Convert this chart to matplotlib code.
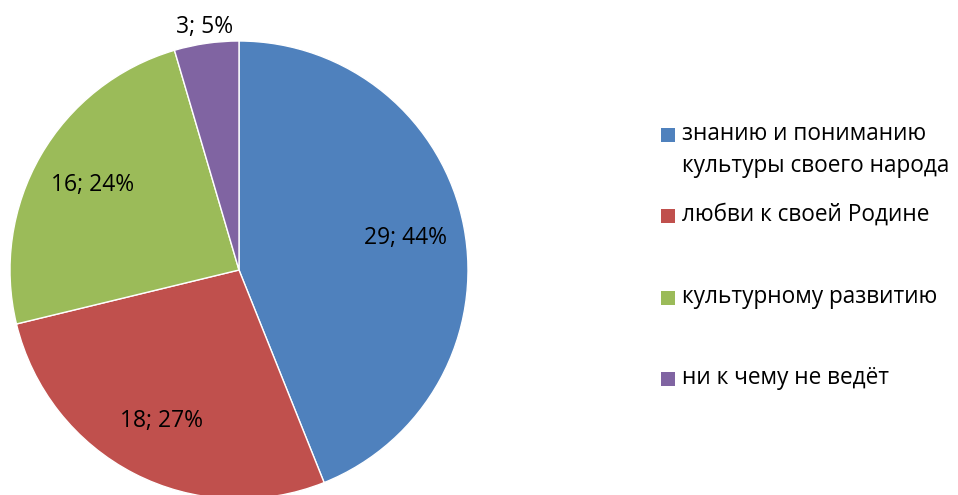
import numpy as np
import matplotlib
matplotlib.use('Agg')
import matplotlib.pyplot as plt
from matplotlib.patches import Rectangle

plt.rcParams['font.family'] = ['Open Sans', 'DejaVu Sans']

# data
labels = [['знанию и пониманию', 'культуры своего народа'], ['любви к своей Родине'],
          ['культурному развитию'], ['ни к чему не ведёт']]
values = [29, 18, 16, 3]
percents = [44, 27, 24, 5]
colors = ['#4F81BD', '#C0504D', '#9BBB59', '#8064A2']

W, H = 958, 495
fig = plt.figure(figsize=(W / 100, H / 100), dpi=100)

# pie centred at (239, 270) px, radius 229 px
cx, cy, r = 239, 270, 229
ax = fig.add_axes([(cx - r) / W, 1 - (cy + r) / H, 2 * r / W, 2 * r / H])
wedges, _ = ax.pie(values, colors=colors, startangle=90, counterclock=False,
                   wedgeprops=dict(edgecolor='white', linewidth=1))
ax.set_xlim(-1, 1)
ax.set_ylim(-1, 1)
ax.set_aspect('equal')

for w, v, p in zip(wedges, values, percents):
    ang = np.deg2rad((w.theta1 + w.theta2) / 2)
    d = 1.07 if v < 5 else 0.74
    ax.text(d * np.cos(ang), d * np.sin(ang), f'{v}; {p}%', ha='center', va='center',
            fontsize=16.5, color='#000000', clip_on=False)

# legend (pixel rows of the first line of each entry)
legend_y = [134, 215, 297, 378]
for lines, col, y in zip(labels, colors, legend_y):
    fig.patches.append(Rectangle((661 / W, 1 - (y + 8) / H), 14 / W, 14 / H,
                                 transform=fig.transFigure, facecolor=col, edgecolor='none'))
    for i, line in enumerate(lines):
        fig.text(682 / W, 1 - (y + 32 * i) / H, line, ha='left', va='center',
                 fontsize=16.3, color='#000000')

fig.savefig('out.png', dpi=100, facecolor='white')
